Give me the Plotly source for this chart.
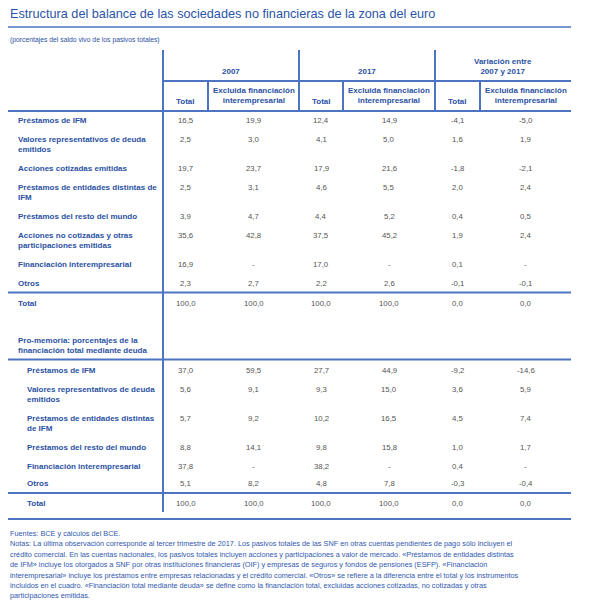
import plotly.graph_objects as go

# ---------------- data ----------------
title_text = "Estructura del balance de las sociedades no financieras de la zona del euro"
subtitle_text = "(porcentajes del saldo vivo de los pasivos totales)"

group_headers = ["2007", "2017", "Variación entre<br>2007 y 2017"]
sub_headers = ["Total", "Excluida financiación<br>interempresarial"]

top_labels = [
    "Préstamos de IFM",
    "Valores representativos de deuda<br>emitidos",
    "Acciones cotizadas emitidas",
    "Préstamos de entidades distintas de<br>IFM",
    "Préstamos del resto del mundo",
    "Acciones no cotizadas y otras<br>participaciones emitidas",
    "Financiación interempresarial",
    "Otros",
    "Total",
]
top_total_2007 = [16.5, 2.5, 19.7, 2.5, 3.9, 35.6, 16.9, 2.3, 100.0]
top_excl_2007 = [19.9, 3.0, 23.7, 3.1, 4.7, 42.8, None, 2.7, 100.0]
top_total_2017 = [12.4, 4.1, 17.9, 4.6, 4.4, 37.5, 17.0, 2.2, 100.0]
top_excl_2017 = [14.9, 5.0, 21.6, 5.5, 5.2, 45.2, None, 2.6, 100.0]
top_total_var = [-4.1, 1.6, -1.8, 2.0, 0.4, 1.9, 0.1, -0.1, 0.0]
top_excl_var = [-5.0, 1.9, -2.1, 2.4, 0.5, 2.4, None, -0.1, 0.0]

memo_header = "Pro-memoria: porcentajes de la<br>financiación total mediante deuda"
low_labels = [
    "Préstamos de IFM",
    "Valores representativos de deuda<br>emitidos",
    "Préstamos de entidades distintas<br>de IFM",
    "Préstamos del resto del mundo",
    "Financiación interempresarial",
    "Otros",
    "Total",
]
low_total_2007 = [37.0, 5.6, 5.7, 8.8, 37.8, 5.1, 100.0]
low_excl_2007 = [59.5, 9.1, 9.2, 14.1, None, 8.2, 100.0]
low_total_2017 = [27.7, 9.3, 10.2, 9.8, 38.2, 4.8, 100.0]
low_excl_2017 = [44.9, 15.0, 16.5, 15.8, None, 7.8, 100.0]
low_total_var = [-9.2, 3.6, 4.5, 1.0, 0.4, -0.3, 0.0]
low_excl_var = [-14.6, 5.9, 7.4, 1.7, None, -0.4, 0.0]

footer_lines = [
    "Fuentes: BCE y cálculos del BCE.",
    "Notas: La última observación corresponde al tercer trimestre de 2017. Los pasivos totales de las SNF en otras cuentas pendientes de pago sólo incluyen el",
    "crédito comercial. En las cuentas nacionales, los pasivos totales incluyen acciones y participaciones a valor de mercado. «Préstamos de entidades distintas",
    "de IFM» incluye los otorgados a SNF por otras instituciones financieras (OIF) y empresas de seguros y fondos de pensiones (ESFP). «Financiación",
    "interempresarial» incluye los préstamos entre empresas relacionadas y el crédito comercial. «Otros» se refiere a la diferencia entre el total y los instrumentos",
    "incluidos en el cuadro. «Financiación total mediante deuda» se define como la financiación total, excluidas acciones cotizadas, no cotizadas y otras",
    "participaciones emitidas.",
]

# ---------------- layout geometry ----------------
W, H = 593, 608
FONT = "Arial, Liberation Sans, sans-serif"
C_TITLE = "#2A55A8"
C_LABEL = "#2B51A2"
C_LINE = "#4C74C3"
C_NUM = "#555555"
C_FOOT = "#3059AE"

left, right = 8, 571
col_edges = [163, 208, 299, 343, 435, 480, right]
PITCH1, PITCH2 = 19, 29


def fmt(v):
    return "-" if v is None else f"{v:.1f}".replace(".", ",")


def nlines(s):
    return s.count("<br>") + 1


fig = go.Figure()
ann = []
shapes = []


def hline(y, x0, x1, w=2):
    shapes.append(dict(type="line", xref="x", yref="y", x0=x0, x1=x1, y0=y, y1=y,
                       line=dict(color=C_LINE, width=w)))


def vline(x, y0, y1, w=2):
    shapes.append(dict(type="line", xref="x", yref="y", x0=x, x1=x, y0=y0, y1=y1,
                       line=dict(color=C_LINE, width=w)))


def text(x, y, s, size, color, bold=False, xanchor="left"):
    n = nlines(s)
    yc = y + (n - 1) * 1.3 * size / 2
    ann.append(dict(x=x, y=yc, xref="x", yref="y", text=(f"<b>{s}</b>" if bold else s),
                    showarrow=False, xanchor=xanchor, yanchor="middle",
                    align=xanchor if xanchor != "center" else "center",
                    font=dict(family=FONT, size=size, color=color)))


def text_bottom(x, y_last, s, size, color, bold=True):
    n = nlines(s)
    y_first = y_last - (n - 1) * 1.3 * size
    text(x, y_first, s, size, color, bold, xanchor="center")


# title
text(left, 14, title_text, 12.7, C_TITLE)
hline(27, left, right, 1.6)
text(left, 39.5, subtitle_text, 6.8, C_LABEL)

# header
head_top, head_mid, head_bot = 50, 81, 111
vline(col_edges[0], head_top, 512)
vline(col_edges[2], head_top, head_bot)
vline(col_edges[4], head_top, head_bot)
for k in (1, 3, 5):
    vline(col_edges[k], head_mid, head_bot)
hline(head_mid, col_edges[0], right)
hline(head_bot, left, right)

for g, gh in enumerate(group_headers):
    xc = (col_edges[2 * g] + col_edges[2 * g + 2]) / 2
    text_bottom(xc, 71.7, gh, 8, C_LABEL)
    for s, sh in enumerate(sub_headers):
        xc2 = (col_edges[2 * g + s] + col_edges[2 * g + s + 1]) / 2
        text_bottom(xc2, 101, sh, 8, C_LABEL)

centers = [(col_edges[i] + col_edges[i + 1]) / 2 for i in range(6)]


def section(labels, cols, y0, indent, last_pitch=PITCH1):
    y = y0
    ys = []
    for i, lab in enumerate(labels[:-1]):
        ys.append(y)
        step = PITCH1 if nlines(lab) == 1 else PITCH2
        if i == len(labels) - 3:
            step = last_pitch
        y += step
    sep = ys[-1] + 9.5
    ys.append(sep + 10.5)
    for i, lab in enumerate(labels):
        text(indent, ys[i], lab, 8, C_LABEL, bold=True)
        for c, col in enumerate(cols):
            text(centers[c], ys[i], fmt(col[i]), 7.8, C_NUM, xanchor="center")
    hline(sep, left, right)
    return ys[-1]


top_cols = [top_total_2007, top_excl_2007, top_total_2017, top_excl_2017, top_total_var, top_excl_var]
low_cols = [low_total_2007, low_excl_2007, low_total_2017, low_excl_2017, low_total_var, low_excl_var]

section(top_labels, top_cols, 120, 16)
text(16, 340, memo_header, 8, C_LABEL, bold=True)
hline(359.5, left, right)
section(low_labels, low_cols, 370, 25, last_pitch=17.5)
hline(519, left, right)

for i, fl in enumerate(footer_lines):
    text(left, 533.5 + i * 10.4, fl, 7.3, C_FOOT)

fig.update_layout(
    width=W, height=H,
    margin=dict(l=0, r=0, t=0, b=0),
    paper_bgcolor="white", plot_bgcolor="white",
    xaxis=dict(range=[0, W], visible=False, fixedrange=True),
    yaxis=dict(range=[H, 0], visible=False, fixedrange=True),
    annotations=ann, shapes=shapes, showlegend=False,
)

fig.write_html("out.html", config={"displayModeBar": False},
               post_script="document.body.style.margin='0';document.body.style.overflow='hidden';")
